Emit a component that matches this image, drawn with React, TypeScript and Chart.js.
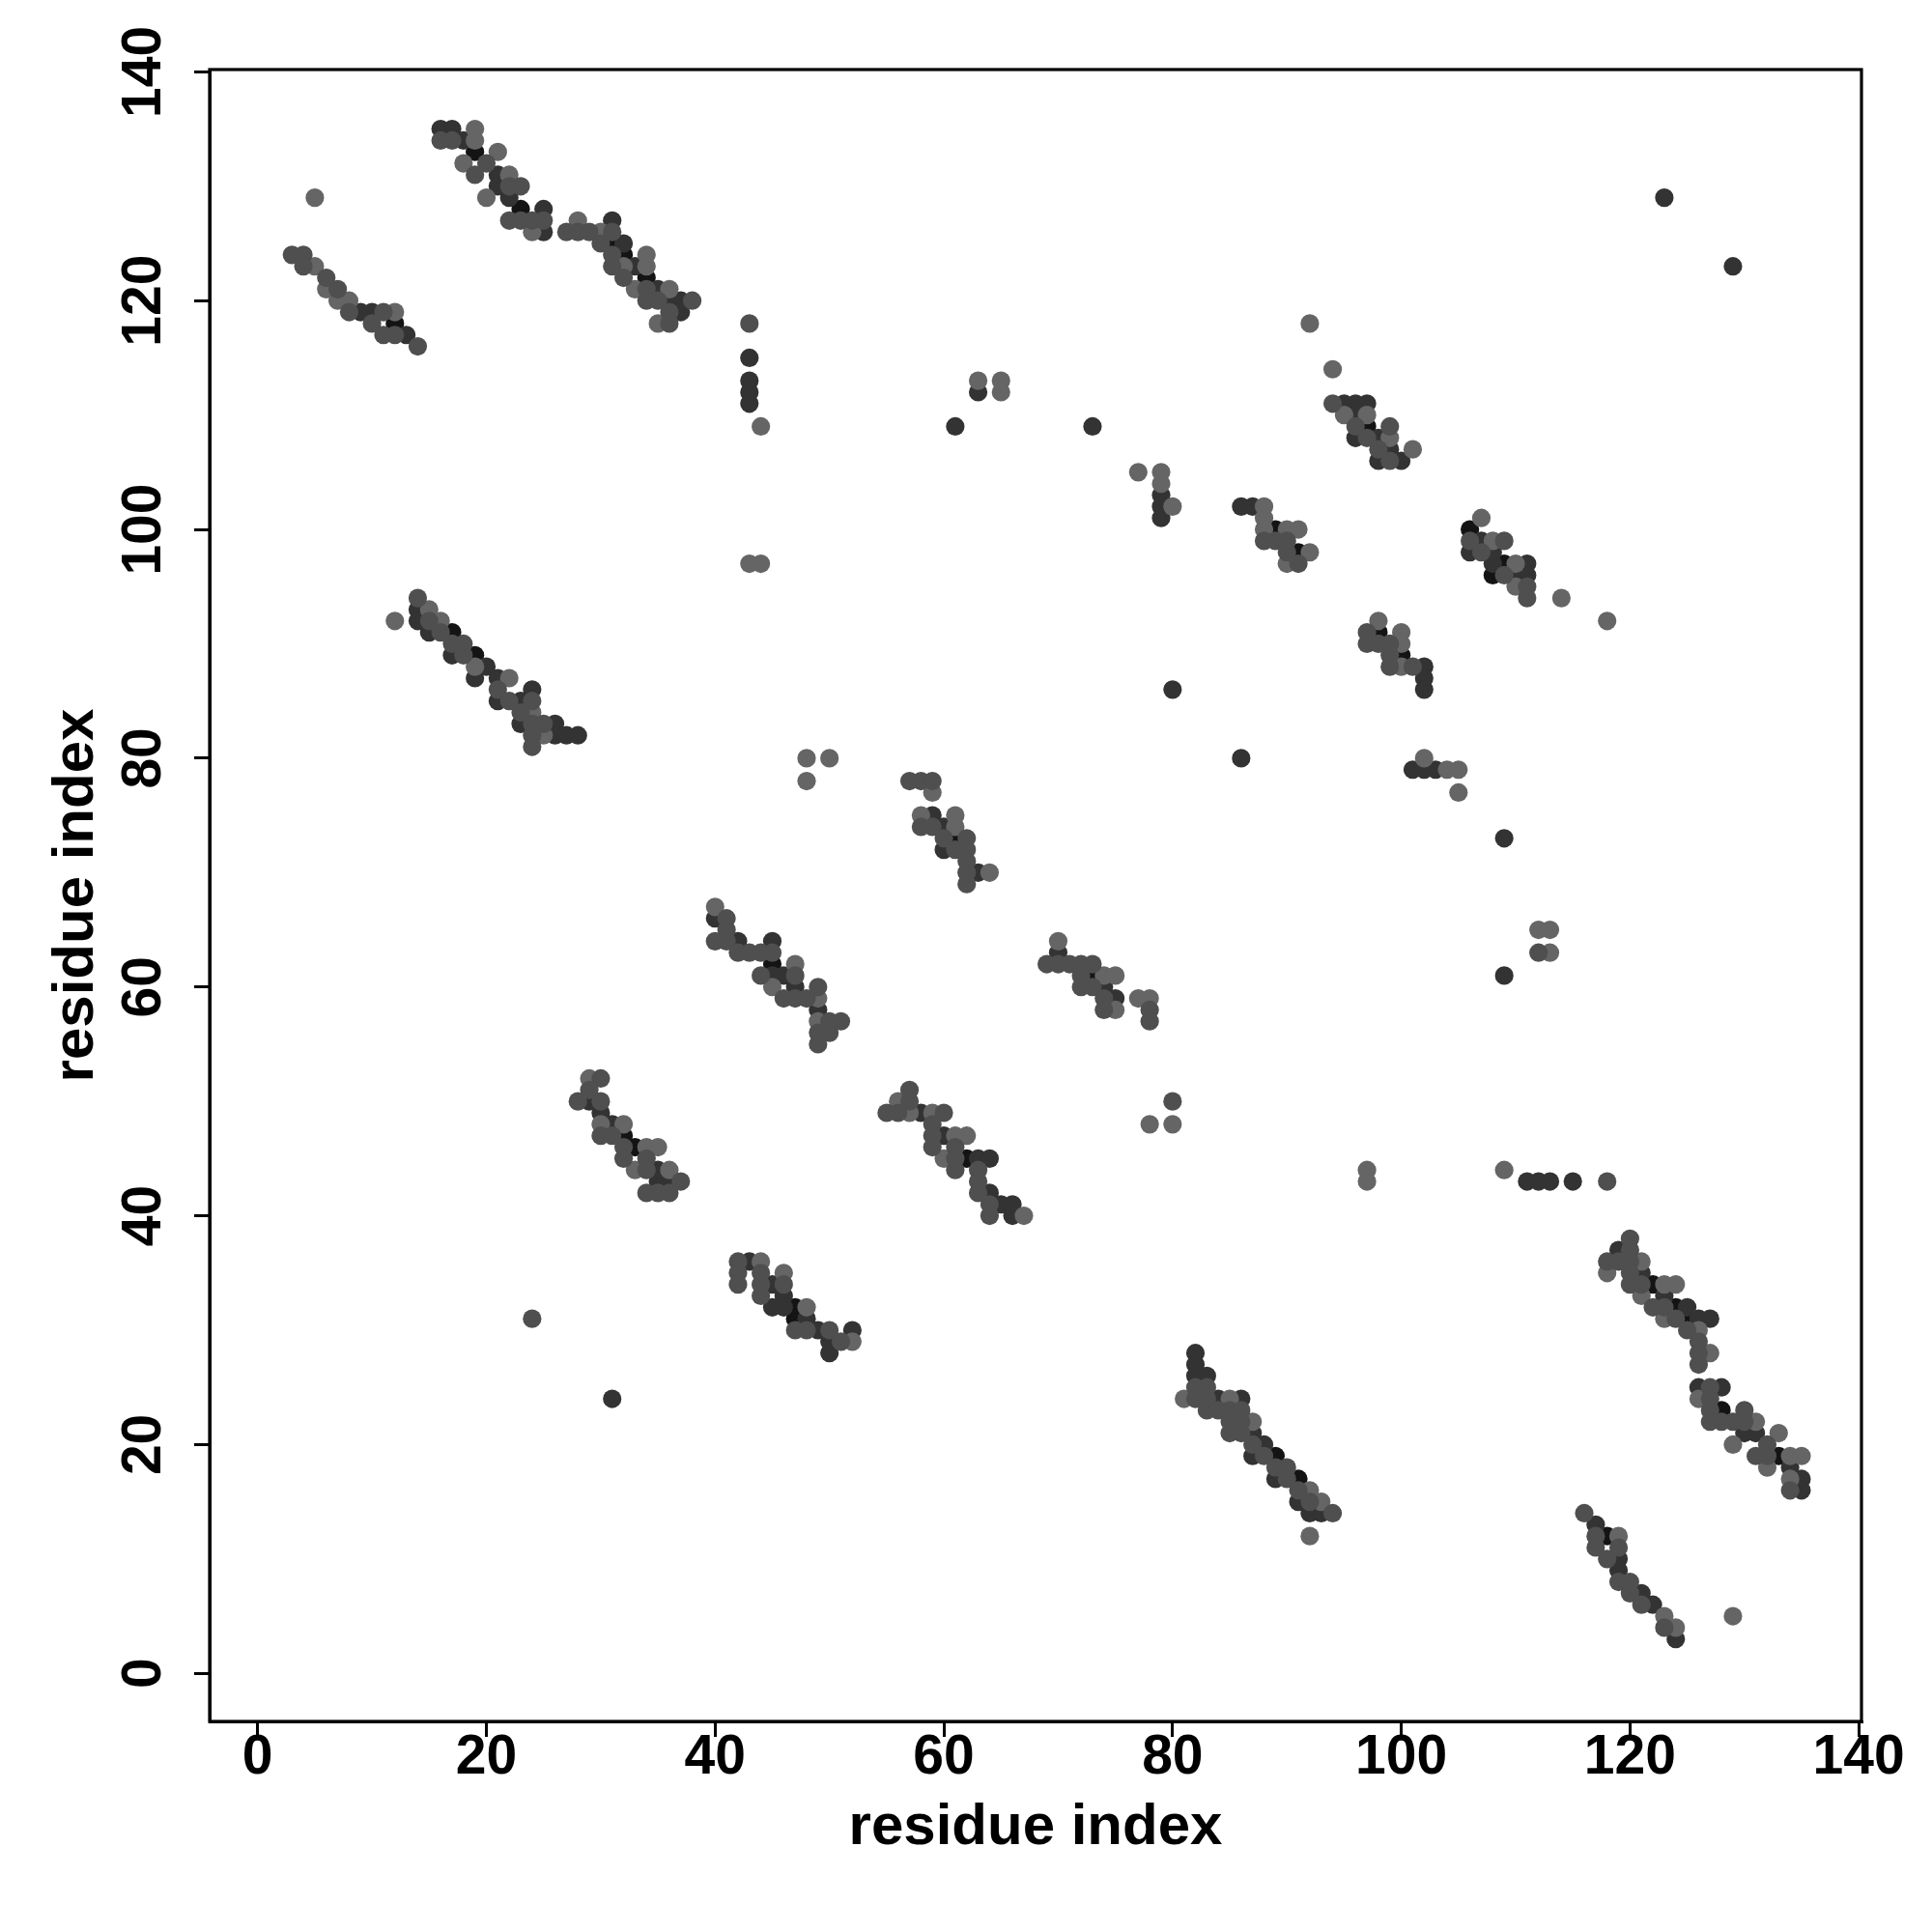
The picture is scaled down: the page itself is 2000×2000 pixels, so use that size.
import React, { useEffect, useRef } from "react";
import { Chart, registerables } from "chart.js";

Chart.register(...registerables);

const TICKS = [0, 20, 40, 60, 80, 100, 120, 140];
const X_TITLE = "residue index";
const Y_TITLE = "residue index";

type P = [number, number];

const POINTS_MID: P[] = [
  [3,124],[4,124],[4,123],[6,122],[7,121],[8,119],[11,119],[10,118],[11,117],[12,117],[14,116],
  [16,134],[17,134],[20,132],[19,131],[22,130],[23,130],[22,127],[23,127],[24,127],[25,127],[27,126],[28,126],[29,126],[31,126],[30,125],[31,124],[31,123],[32,122],[34,121],[34,120],[35,120],[38,120],[36,119],[36,118],
  [43,118],
  [14,94],[15,92],[16,91],[17,90],[18,90],[18,89],[21,86],[22,85],[24,85],[23,84],[24,83],[25,83],[24,82],[24,81],
  [94,111],[96,109],[99,109],[97,108],[98,107],[99,106],[88,99],[89,99],[90,99],[90,98],[91,97],[97,91],[97,90],[98,90],[99,90],[99,89],[99,88],[101,88],
  [106,99],[109,99],[107,98],[109,96],[111,95],[111,94],
  [57,78],[58,78],[59,78],[58,74],[59,74],[60,73],[62,73],[61,72],[62,72],[62,71],[62,70],[62,69],
  [41,66],[41,65],[40,64],[41,64],[42,63],[43,63],[44,63],[45,63],[44,61],[47,61],[46,59],[47,59],[48,59],[49,60],[50,57],[51,57],[49,56],[50,56],[49,55],
  [69,62],[70,62],[71,62],[72,62],[73,62],[72,61],[72,60],[73,60],[74,59],[74,58],[78,58],[78,57],[80,50],
  [30,52],[29,51],[28,50],[30,50],[30,47],[31,47],[32,46],[32,45],[34,45],[34,44],[37,43],[34,42],[35,42],[36,42],
  [57,51],[57,50],[55,49],[56,49],[60,49],[59,48],[59,47],[59,46],[61,46],[61,45],[61,44],[63,44],[63,43],[63,42],[64,41],[64,40],
  [42,36],[42,35],[42,34],[44,35],[44,34],[44,33],[46,34],[47,30],[48,30],[50,30],[51,29],
  [82,25],[82,24],[83,25],[83,24],[83,23],[84,23],[85,23],[86,23],[85,22],[85,21],[86,22],[86,21],[87,20],[88,19],[90,18],[89,18],[90,17],[91,16],[92,15],[94,14],
  [120,38],[120,37],[118,36],[119,36],[120,36],[120,35],[120,34],[121,34],[122,32],[123,32],[124,31],[125,30],[126,29],[126,28],[126,27],
  [127,25],[127,24],[127,23],[128,22],[127,22],[129,22],[130,23],[130,22],[132,20],[131,19],[132,19],[134,16],
  [116,14],[117,12],[117,11],[119,11],[118,10],[119,8],[120,8],[120,7],[121,6],[123,4],
  [24,31],[112,63],[118,43],
];

const POINTS_LIGHT: P[] = [
  [5,123],[6,121],[7,120],[8,120],[12,119],[5,129],
  [19,135],[19,134],[21,133],[18,132],[22,131],[20,129],[24,126],[28,127],[30,126],[32,123],[34,124],[34,123],[33,121],[36,121],[35,118],
  [44,109],[43,97],[44,97],[63,113],[65,113],[65,112],
  [12,92],[15,93],[16,92],[19,88],[22,87],[24,84],[25,82],
  [92,118],[94,114],[95,110],[97,110],[99,108],[101,107],[77,105],[79,105],[79,104],[80,102],[88,102],[88,101],[88,100],[90,100],[91,100],[92,98],[90,97],[98,92],[100,91],[100,90],[100,88],
  [107,101],[108,99],[110,97],[110,95],[114,94],[118,92],[104,79],[105,79],[102,80],[105,77],
  [48,80],[50,80],[48,78],[59,77],[58,75],[61,75],[61,74],[64,70],[40,67],[47,62],[45,60],[49,59],[49,57],
  [70,64],[74,61],[75,61],[75,58],[77,59],[78,59],[78,48],[80,48],
  [29,52],[30,48],[32,48],[34,46],[35,46],[33,44],[36,44],
  [56,50],[57,49],[59,49],[61,47],[62,47],[60,45],[67,40],
  [44,36],[46,35],[48,32],[52,29],
  [81,24],[85,24],[87,22],[92,16],[93,15],[92,12],
  [121,36],[118,35],[123,34],[124,34],[121,33],[123,31],[126,30],[127,28],
  [126,24],[131,22],[129,20],[133,21],[134,19],[135,19],[132,18],[134,17],
  [119,12],[123,5],[124,4],[129,5],
  [112,65],[113,65],[113,63],[109,44],[97,44],[97,43],
];

const POINTS_DARK: P[] = [
  [9,119],[10,119],[13,117],
  [16,135],[17,135],[18,134],[21,131],[21,130],[22,129],[25,128],[25,126],[31,127],[32,125],[33,123],[35,121],[36,120],[37,120],[37,119],
  [43,115],[43,113],[43,112],[43,111],[61,109],[63,112],
  [14,93],[14,92],[15,91],[17,89],[19,87],[20,88],[21,87],[21,85],[23,85],[24,86],[23,83],[26,83],[26,82],[27,82],[28,82],
  [95,111],[96,111],[97,111],[96,110],[96,108],[98,108],[99,107],[98,106],[100,106],[79,103],[79,102],[79,101],[86,102],[87,102],[102,88],[102,87],[102,86],[80,86],
  [106,98],[107,99],[108,98],[108,97],[111,97],[110,96],[111,96],[101,79],[102,79],[103,79],
  [59,75],[60,74],[60,72],[63,70],[40,66],[42,64],[45,64],[45,61],[46,61],[47,60],[49,58],
  [70,63],[74,60],[75,59],
  [29,50],[30,49],[31,48],[35,44],[35,43],[36,43],
  [58,49],[60,47],[63,45],[64,45],[64,42],[65,41],[66,41],[66,40],
  [43,36],[45,34],[45,32],[46,33],[46,32],[48,31],[49,30],[52,30],[50,28],[50,29],
  [82,28],[82,27],[82,26],[83,26],[84,24],[86,24],[87,21],[88,20],[87,19],[89,17],[91,15],[92,14],[93,14],
  [119,37],[121,35],[123,33],[125,32],[126,31],[127,31],
  [126,25],[128,25],[130,21],[131,21],[134,18],[135,17],[135,16],
  [117,13],[119,10],[119,9],[121,7],[122,6],[124,3],
  [31,24],[123,129],[129,123],[109,73],[109,61],[111,43],[112,43],[113,43],[115,43],[86,80],[73,109],
];

const POINTS_BLACK: P[] = [
  [12,118],[19,133],[23,128],[31,125],[32,124],[34,122],[17,91],[19,89],[97,109],[89,100],[91,98],[98,91],[100,89],
  [106,100],[109,97],[108,96],[61,73],[45,62],[73,61],[32,47],[33,46],[62,45],[47,32],[47,31],[89,19],[91,17],
  [122,34],[124,32],[125,31],[128,23],[133,19],[118,12],
];

const FONT = "'Liberation Sans', Arial, Helvetica, sans-serif";

export default function App() {
  const ref = useRef<HTMLCanvasElement>(null);

  useEffect(() => {
    document.body.style.margin = "0";
    const toPts = (a: P[]) => a.map(([x, y]) => ({ x, y }));
    const ds = (pts: P[], color: string) => ({
      data: toPts(pts),
      backgroundColor: color,
      borderWidth: 0,
      pointRadius: 9.6,
      pointHoverRadius: 9.6,
    });

    const frame = {
      id: "frame",
      afterDraw(chart: any) {
        const { ctx, chartArea } = chart;
        ctx.save();
        ctx.strokeStyle = "#000";
        ctx.lineWidth = 3.2;
        ctx.strokeRect(chartArea.left, chartArea.top, chartArea.right - chartArea.left, chartArea.bottom - chartArea.top);
        ctx.restore();
      },
    };

    const tickFont = { family: FONT, size: 57, weight: "bold" as const };
    const titleFont = { family: FONT, size: 60, weight: "bold" as const };

    const chart = new Chart(ref.current!, {
      type: "scatter",
      data: {
        datasets: [
          ds(POINTS_MID, "#4f4f4f"),
          ds(POINTS_LIGHT, "#656565"),
          ds(POINTS_DARK, "#333333"),
          ds(POINTS_BLACK, "#141414"),
        ],
      },
      options: {
        responsive: false,
        animation: false,
        devicePixelRatio: 1,
        layout: { padding: { top: 72, right: 73, left: 0, bottom: 0 } },
        plugins: { legend: { display: false }, tooltip: { enabled: false } },
        scales: {
          x: {
            type: "linear",
            min: -4.2,
            max: 140.24,
            afterBuildTicks: (s: any) => { s.ticks = TICKS.map((v) => ({ value: v })); },
            afterFit: (s: any) => { s.height = 218; },
            grid: { drawOnChartArea: false, drawTicks: true, tickLength: 16, lineWidth: 3, color: "#000" },
            border: { display: true, width: 3, color: "#000" },
            ticks: { font: tickFont, color: "#000", padding: -12, maxRotation: 0, autoSkip: false, includeBounds: false },
            title: { display: true, text: X_TITLE, font: titleFont, color: "#000", padding: { top: 0, bottom: 72 } },
          },
          y: {
            type: "linear",
            min: -4.2,
            max: 140.2,
            afterBuildTicks: (s: any) => { s.ticks = TICKS.map((v) => ({ value: v })); },
            afterFit: (s: any) => { s.width = 217; },
            grid: { drawOnChartArea: false, drawTicks: true, tickLength: 16, lineWidth: 3, color: "#000" },
            border: { display: true, width: 3, color: "#000" },
            ticks: { font: tickFont, color: "#000", padding: 3, minRotation: 90, maxRotation: 90, crossAlign: "center", autoSkip: false, includeBounds: false },
            title: { display: true, text: Y_TITLE, font: titleFont, color: "#000", padding: { top: 43, bottom: 0 } },
          },
        },
      },
      plugins: [frame],
    } as any);

    return () => chart.destroy();
  }, []);

  return (
    <div style={{ position: "absolute", left: 0, top: 0, width: 2000, height: 2000, background: "#fff" }}>
      <canvas ref={ref} width={2000} height={2000} style={{ width: 2000, height: 2000, display: "block" }} />
    </div>
  );
}
